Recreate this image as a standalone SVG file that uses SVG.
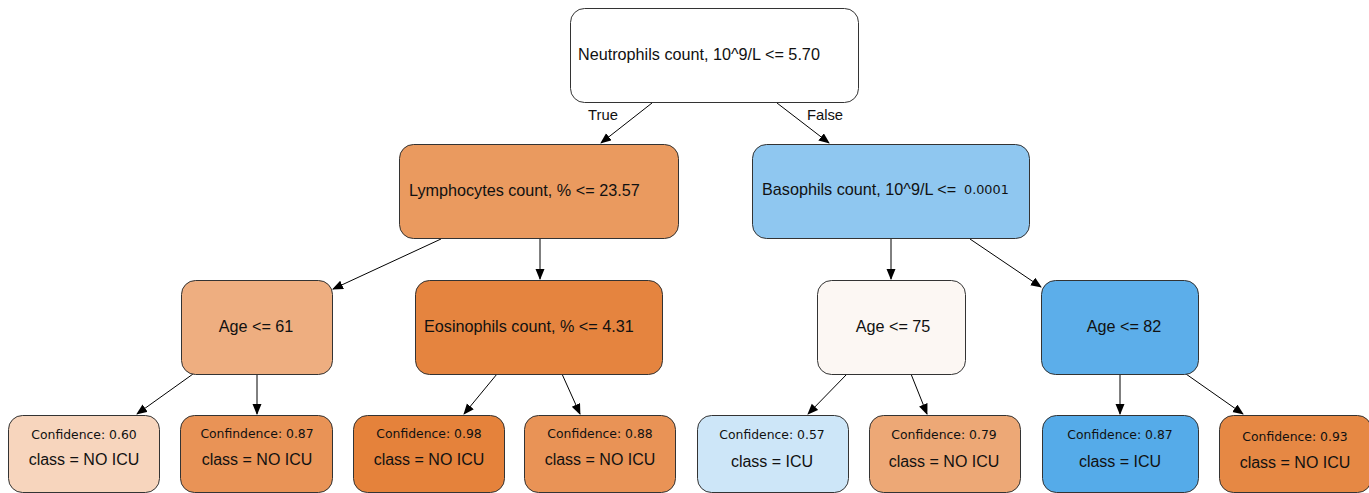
<svg xmlns="http://www.w3.org/2000/svg" width="1369" height="493" viewBox="0 0 1369 493">
<style>
.n{stroke:#333;stroke-width:1}
.t{font-family:"Liberation Sans",Arial,sans-serif;font-size:16.2px;fill:#111}
.c{font-family:"DejaVu Sans",Verdana,sans-serif;font-size:12.4px;fill:#111;text-anchor:middle}
.k{font-family:"Liberation Sans",Arial,sans-serif;font-size:16px;fill:#111;text-anchor:middle}
.m{text-anchor:middle}
.e{stroke:#000;stroke-width:1;fill:none;marker-end:url(#a)}
</style>
<defs>
<marker id="a" markerUnits="userSpaceOnUse" markerWidth="12" markerHeight="10" refX="10" refY="4.5" orient="auto">
<path d="M0,0 L11,4.5 L0,9 Z" fill="#000"/>
</marker>
</defs>
<rect width="1369" height="493" fill="#fff"/>
<g id="connectors">
<path class="e" d="M652,103 L601,143"/>
<path class="e" d="M777,103 L829,143"/>
<path class="e" d="M441,239 L333,289"/>
<path class="e" d="M540,239 L540,279"/>
<path class="e" d="M891,239 L891,279"/>
<path class="e" d="M970,239 L1041,287"/>
<path class="e" d="M193,374 L137,414"/>
<path class="e" d="M257,374 L257,414"/>
<path class="e" d="M497,374 L464,414"/>
<path class="e" d="M562,374 L580,414"/>
<path class="e" d="M847,374 L808,414"/>
<path class="e" d="M911,374 L927,414"/>
<path class="e" d="M1120,374 L1120,414"/>
<path class="e" d="M1186,374 L1243,414"/>
<text class="t m" x="603" y="120" style="font-size:14.8px">True</text>
<text class="t m" x="825" y="120" style="font-size:14.8px">False</text>
</g>
<g id="root"><rect class="n" x="570.5" y="8.5" width="288" height="94" rx="14" fill="#ffffff"/><text class="t" x="578" y="60">Neutrophils count, 10^9/L &lt;= 5.70</text></g>
<g id="lymph"><rect class="n" x="399.5" y="144.5" width="279" height="94" rx="14" fill="#ea9a5f"/><text class="t" x="409" y="196">Lymphocytes count, % &lt;= 23.57</text></g>
<g id="baso"><rect class="n" x="752.5" y="144.5" width="277" height="94" rx="14" fill="#8fc7f0"/><text class="t" x="762" y="195">Basophils count, 10^9/L &lt;=</text><text x="964" y="194" style="font-family:'DejaVu Sans',sans-serif;font-size:12.8px;fill:#111">0.0001</text></g>
<g id="age61"><rect class="n" x="181.5" y="280.5" width="151" height="94" rx="14" fill="#eeae80"/><text class="t m" x="256" y="332">Age &lt;= 61</text></g>
<g id="eos"><rect class="n" x="415.5" y="280.5" width="247" height="94" rx="14" fill="#e5843f"/><text class="t" x="424" y="332">Eosinophils count, % &lt;= 4.31</text></g>
<g id="age75"><rect class="n" x="817.5" y="280.5" width="148" height="94" rx="14" fill="#fcf7f3"/><text class="t m" x="893" y="332">Age &lt;= 75</text></g>
<g id="age82"><rect class="n" x="1041.5" y="280.5" width="157" height="94" rx="14" fill="#5caeea"/><text class="t m" x="1124" y="332">Age &lt;= 82</text></g>
<g id="leaf1"><rect class="n" x="8.5" y="415.5" width="151" height="77" rx="14" fill="#f7d5bd"/><text class="c" x="84" y="439">Confidence: 0.60</text><text class="k" x="84" y="465">class = NO ICU</text></g>
<g id="leaf2"><rect class="n" x="180.5" y="415.5" width="152" height="77" rx="14" fill="#e99356"/><text class="c" x="257" y="438">Confindence: 0.87</text><text class="k" x="257" y="465">class = NO ICU</text></g>
<g id="leaf3"><rect class="n" x="353.5" y="415.5" width="151" height="77" rx="14" fill="#e5823b"/><text class="c" x="429" y="438">Confidence: 0.98</text><text class="k" x="429" y="465">class = NO ICU</text></g>
<g id="leaf4"><rect class="n" x="524.5" y="415.5" width="151" height="77" rx="14" fill="#e99356"/><text class="c" x="600" y="438">Confidence: 0.88</text><text class="k" x="600" y="465">class = NO ICU</text></g>
<g id="leaf5"><rect class="n" x="697.5" y="415.5" width="151" height="77" rx="14" fill="#cde6f8"/><text class="c" x="772" y="439">Confidence: 0.57</text><text class="k" x="772" y="467">class = ICU</text></g>
<g id="leaf6"><rect class="n" x="869.5" y="415.5" width="151" height="77" rx="14" fill="#eda876"/><text class="c" x="944" y="439">Confidence: 0.79</text><text class="k" x="944" y="467">class = NO ICU</text></g>
<g id="leaf7"><rect class="n" x="1042.5" y="415.5" width="156" height="77" rx="14" fill="#55abe9"/><text class="c" x="1120" y="439">Confidence: 0.87</text><text class="k" x="1120" y="467">class = ICU</text></g>
<g id="leaf8"><rect class="n" x="1219.5" y="415.5" width="152" height="77" rx="14" fill="#e68844"/><text class="c" x="1295" y="441">Confidence: 0.93</text><text class="k" x="1295" y="468">class = NO ICU</text></g>
</svg>
